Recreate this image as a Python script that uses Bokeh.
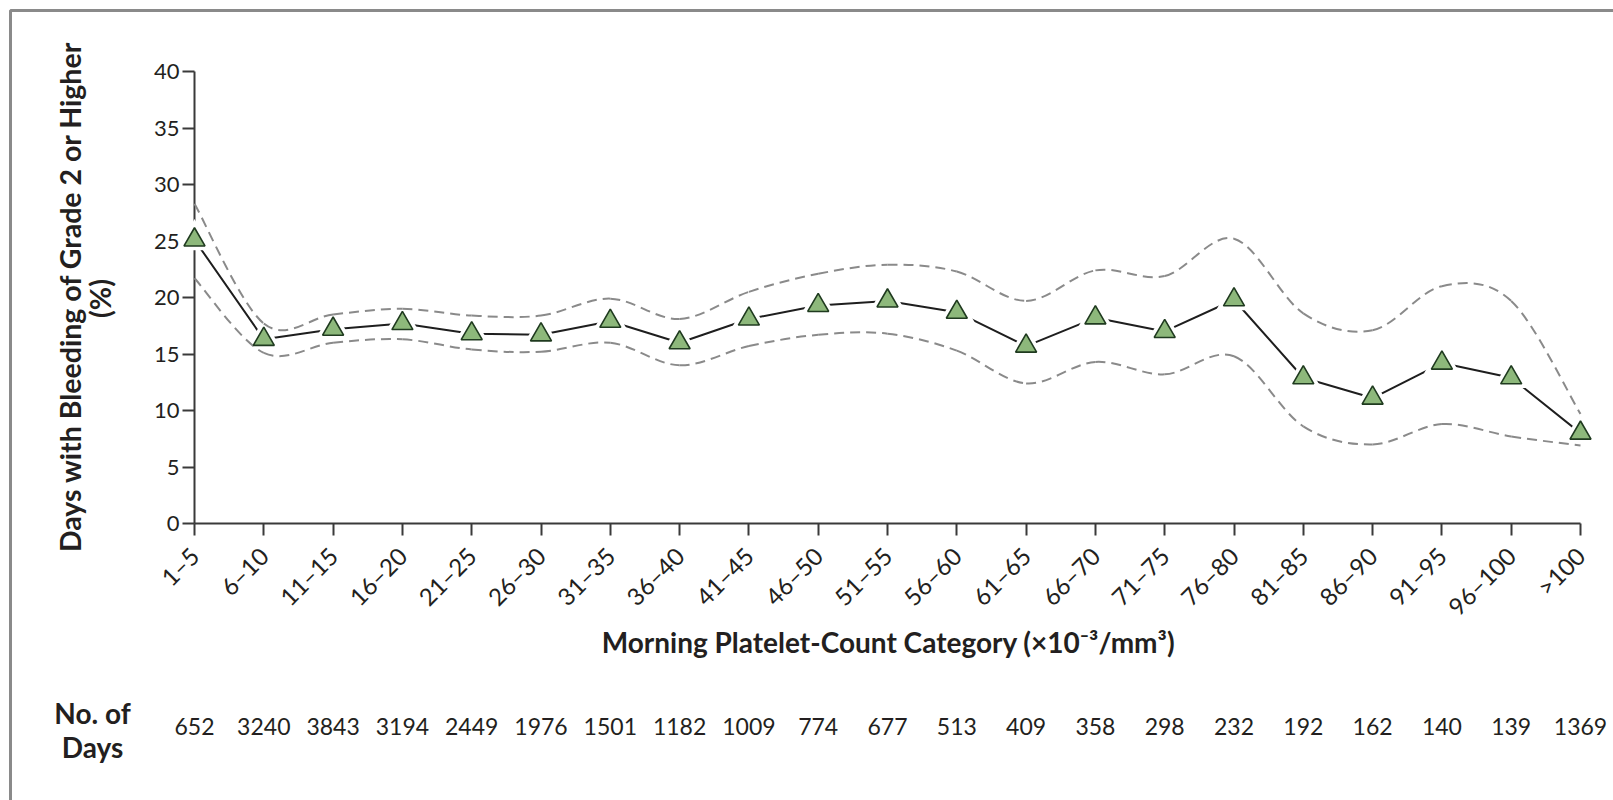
from math import pi

from bokeh.core.properties import value
from bokeh.embed import file_html
from bokeh.models import ColumnDataSource, FixedTicker, Range1d
from bokeh.plotting import figure
from bokeh.resources import INLINE

# ---- data -------------------------------------------------------------
categories = ["1–5", "6–10", "11–15", "16–20", "21–25", "26–30", "31–35",
              "36–40", "41–45", "46–50", "51–55", "56–60", "61–65", "66–70",
              "71–75", "76–80", "81–85", "86–90", "91–95", "96–100", ">100"]
pct_bleeding = [25.1, 16.3, 17.2, 17.7, 16.8, 16.7, 17.9, 16.0, 18.1, 19.3, 19.7,
                18.7, 15.7, 18.2, 17.0, 19.8, 12.9, 11.1, 14.2, 12.9, 8.0]
ci_upper = [28.3, 17.7, 18.5, 19.0, 18.4, 18.4, 19.9, 18.1, 20.5, 22.1, 22.9,
            22.3, 19.7, 22.4, 21.9, 25.2, 18.6, 17.1, 21.0, 19.7, 9.7]
ci_lower = [21.7, 15.1, 16.0, 16.3, 15.4, 15.2, 16.0, 14.0, 15.7, 16.7, 16.8,
            15.3, 12.4, 14.3, 13.2, 14.8, 8.6, 7.0, 8.8, 7.7, 6.9]
n_days = [652, 3240, 3843, 3194, 2449, 1976, 1501, 1182, 1009, 774, 677, 513,
          409, 358, 298, 232, 192, 162, 140, 139, 1369]
y_ticks = [0, 5, 10, 15, 20, 25, 30, 35, 40]

x_title = "Morning Platelet-Count Category (×10⁻³/mm³)"
y_title_1 = "Days with Bleeding of Grade 2 or Higher"
y_title_2 = "(%)"
count_title_1 = "No. of"
count_title_2 = "Days"

# ---- layout -----------------------------------------------------------
W, H = 1613, 800
B_LEFT, B_RIGHT, B_TOP, B_BOTTOM = 194, 33, 71, 277
X0, X1 = 0, len(categories) - 1
Y0, Y1 = 0, 40
FW = W - B_LEFT - B_RIGHT
FH = H - B_TOP - B_BOTTOM

FONT = "Lato"
INK = "#231f20"
AXIS = "#3a3a3a"


def dx(px):
    """canvas x pixel -> data x"""
    return X0 + (px - B_LEFT) / FW * (X1 - X0)


def dy(py):
    """canvas y pixel -> data y"""
    return Y0 + (B_TOP + FH - py) / FH * (Y1 - Y0)


p = figure(width=W, height=H, output_backend="svg", toolbar_location=None,
           x_range=Range1d(X0, X1), y_range=Range1d(Y0, Y1),
           min_border_left=B_LEFT, min_border_right=B_RIGHT,
           min_border_top=B_TOP, min_border_bottom=B_BOTTOM)
p.outline_line_color = None
p.background_fill_color = "white"
p.border_fill_color = "white"
p.xgrid.visible = False
p.ygrid.visible = False

# x axis: one tick per category
xi = list(range(len(categories)))
p.xaxis.ticker = FixedTicker(ticks=xi)
p.xaxis.major_label_overrides = {i: c for i, c in enumerate(categories)}
p.xaxis.major_label_orientation = pi / 4
p.xaxis.major_label_text_font_size = "24px"
p.xaxis.major_label_standoff = 16

p.yaxis.ticker = FixedTicker(ticks=y_ticks)
p.yaxis.major_label_text_font_size = "22px"
p.yaxis.major_label_standoff = 3

for ax in (p.xaxis, p.yaxis):
    ax.major_label_text_font = FONT
    ax.major_label_text_color = INK
    ax.axis_line_color = AXIS
    ax.axis_line_width = 2
    ax.major_tick_line_color = AXIS
    ax.major_tick_line_width = 2
    ax.major_tick_in = 0
    ax.major_tick_out = 12
    ax.minor_tick_line_color = None


# smooth dashed confidence bands (Catmull-Rom segments as cubic Beziers)
def bezier_segments(xs, ys):
    n = len(xs)
    seg = dict(x0=[], y0=[], x1=[], y1=[], cx0=[], cy0=[], cx1=[], cy1=[])
    for i in range(n - 1):
        xa, ya = xs[max(i - 1, 0)], ys[max(i - 1, 0)]
        xb, yb = xs[i], ys[i]
        xc, yc = xs[i + 1], ys[i + 1]
        xd, yd = xs[min(i + 2, n - 1)], ys[min(i + 2, n - 1)]
        seg["x0"].append(xb)
        seg["y0"].append(yb)
        seg["x1"].append(xc)
        seg["y1"].append(yc)
        seg["cx0"].append(xb + (xc - xa) / 6)
        seg["cy0"].append(yb + (yc - ya) / 6)
        seg["cx1"].append(xc - (xd - xb) / 6)
        seg["cy1"].append(yc - (yd - yb) / 6)
    return ColumnDataSource(seg)


# main line
p.line(xi, pct_bleeding, line_color="#1e1e1e", line_width=2)
# white halo around markers so the line stops short of them
p.scatter(xi, pct_bleeding, marker="triangle", size=36, fill_color="white",
          line_color=None, level="overlay")

for band in (ci_upper, ci_lower):
    p.bezier(x0="x0", y0="y0", x1="x1", y1="y1", cx0="cx0", cy0="cy0",
             cx1="cx1", cy1="cy1", source=bezier_segments(xi, band),
             line_color="#8a8a8a", line_width=2, line_dash="10 6",
             level="overlay")

p.scatter(xi, pct_bleeding, marker="triangle", size=21, fill_color="#8db87b",
          line_color="#1f3a1f", line_width=1.6, level="overlay")


def put_text(px, py, txt, size, bold=False, angle=0.0, baseline="alphabetic"):
    p.text(x=[dx(px)], y=[dy(py)], text=[txt], angle=angle,
           text_font=value(FONT), text_font_size=value(size),
           text_font_style="bold" if bold else "normal", text_color=INK,
           text_align="center", text_baseline=baseline, level="overlay")


# titles
put_text(888, 641, x_title, "28px", bold=True)
put_text(69, 296, y_title_1, "28.5px", bold=True, angle=pi / 2, baseline="middle")
put_text(99, 298, y_title_2, "28.5px", bold=True, angle=pi / 2, baseline="middle")

# count row
put_text(92, 712, count_title_1, "28px", bold=True)
put_text(92, 746, count_title_2, "28px", bold=True)
p.text(x=xi, y=[dy(726)] * len(xi), text=[str(v) for v in n_days],
       text_font=value(FONT), text_font_size=value("23px"), text_color=INK,
       text_align="center", text_baseline="alphabetic", level="overlay")

# frame around the figure panel (top and left edges)
p.line(x=[dx(10), dx(10), dx(W + 20)], y=[dy(H + 20), dy(10), dy(10)],
       line_color="#8a8a8a", line_width=3, level="overlay")

open("out.html", "w").write(file_html(p, INLINE))
